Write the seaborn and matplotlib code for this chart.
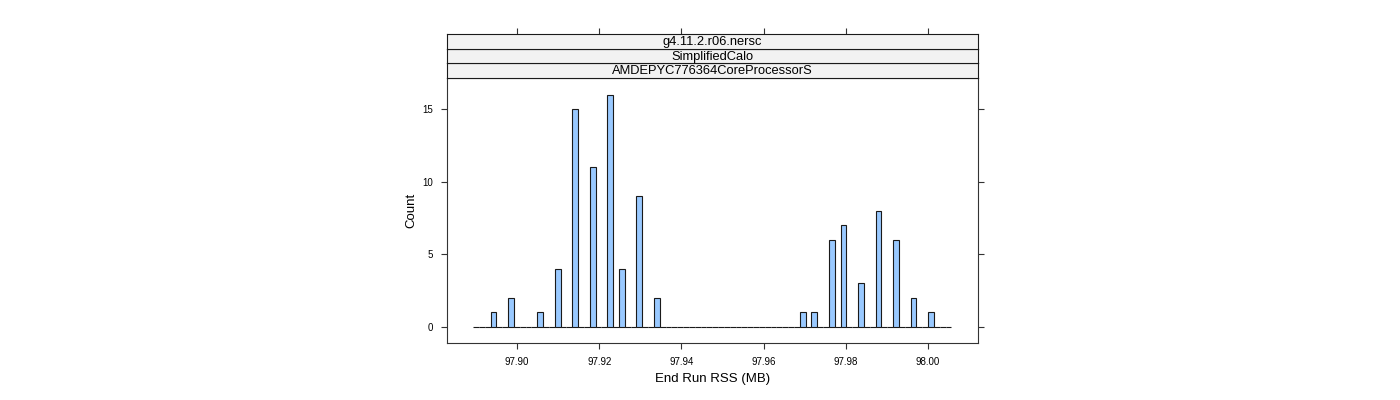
"""Histogram of end-of-run RSS, lattice-style panel with strips"""
import numpy as np
import seaborn as sns
import matplotlib.pyplot as plt

# strip labels (outer -> inner)
strip_labels = ["g4.11.2.r06.nersc", "SimplifiedCalo", "AMDEPYC776364CoreProcessorS"]

# End Run RSS values (MB) and how many runs hit each
rss_values = [97.8942, 97.8985, 97.9056, 97.9099, 97.9141, 97.9184, 97.9226, 97.9255, 97.9297, 97.9340,
              97.9695, 97.9723, 97.9766, 97.9794, 97.9837, 97.9880, 97.9922, 97.9965, 98.0007]
counts = [1, 2, 1, 4, 15, 11, 16, 4, 9, 2,
          1, 1, 6, 7, 3, 8, 6, 2, 1]

x_ticks = [97.90, 97.92, 97.94, 97.96, 97.98, 98.00]
y_ticks = [0, 5, 10, 15]

n_bins = 82
bin_range = (97.88927, 98.00571)

sns.set_style("white")
plt.rcParams['font.family'] = ['Liberation Sans', 'DejaVu Sans']
plt.rcParams['text.color'] = 'black'
plt.rcParams['axes.labelcolor'] = 'black'
plt.rcParams['xtick.color'] = 'black'
plt.rcParams['ytick.color'] = 'black'

fig = plt.figure(figsize=(14, 4), dpi=100)
ax = fig.add_axes([0.3193, 0.1425, 0.3793, 0.6625])

sns.histplot(ax=ax, x=rss_values, weights=counts, bins=n_bins, binrange=bin_range,
             color="#99C9FF", edgecolor="#1a1a1a", linewidth=0.8, alpha=1)

ax.set_xlim(97.88293, 98.01220)
ax.set_ylim(-1.1, 17.14)
ax.set_xticks(x_ticks)
ax.set_xticklabels([f"{t:.2f}" for t in x_ticks])
ax.set_yticks(y_ticks)
ax.tick_params(axis='both', direction='out', length=4.3, width=0.8, color='#333333',
               labelsize=7, pad=6)
ax.tick_params(axis='y', right=True, left=True, labelright=False)
ax.tick_params(axis='x', bottom=True, top=False)
for sp in ax.spines.values():
    sp.set_color('#333333')
    sp.set_linewidth(0.8)
ax.set_xlabel("End Run RSS (MB)", fontsize=9.5, labelpad=4)
ax.set_ylabel("Count", fontsize=9.5, labelpad=3)

# strips stacked above the panel
strip_h = 0.0363
for i, label in enumerate(reversed(strip_labels)):
    sax = fig.add_axes([0.3193, 0.805 + i * strip_h, 0.3793, strip_h], sharex=ax)
    sax.set_facecolor("#F2F2F2")
    sax.text(0.5, 0.45, label, transform=sax.transAxes, ha='center', va='center', fontsize=9.3)
    sax.set_yticks([])
    for sp in sax.spines.values():
        sp.set_color('#1a1a1a')
        sp.set_linewidth(0.8)
    if i == len(strip_labels) - 1:
        sax.tick_params(axis='x', bottom=False, top=True, labelbottom=False, labeltop=False,
                        direction='out', length=4.3, width=0.8, color='#333333')
    else:
        sax.tick_params(axis='x', bottom=False, top=False, labelbottom=False)

plt.savefig("out.png", dpi=100)
plt.close()
